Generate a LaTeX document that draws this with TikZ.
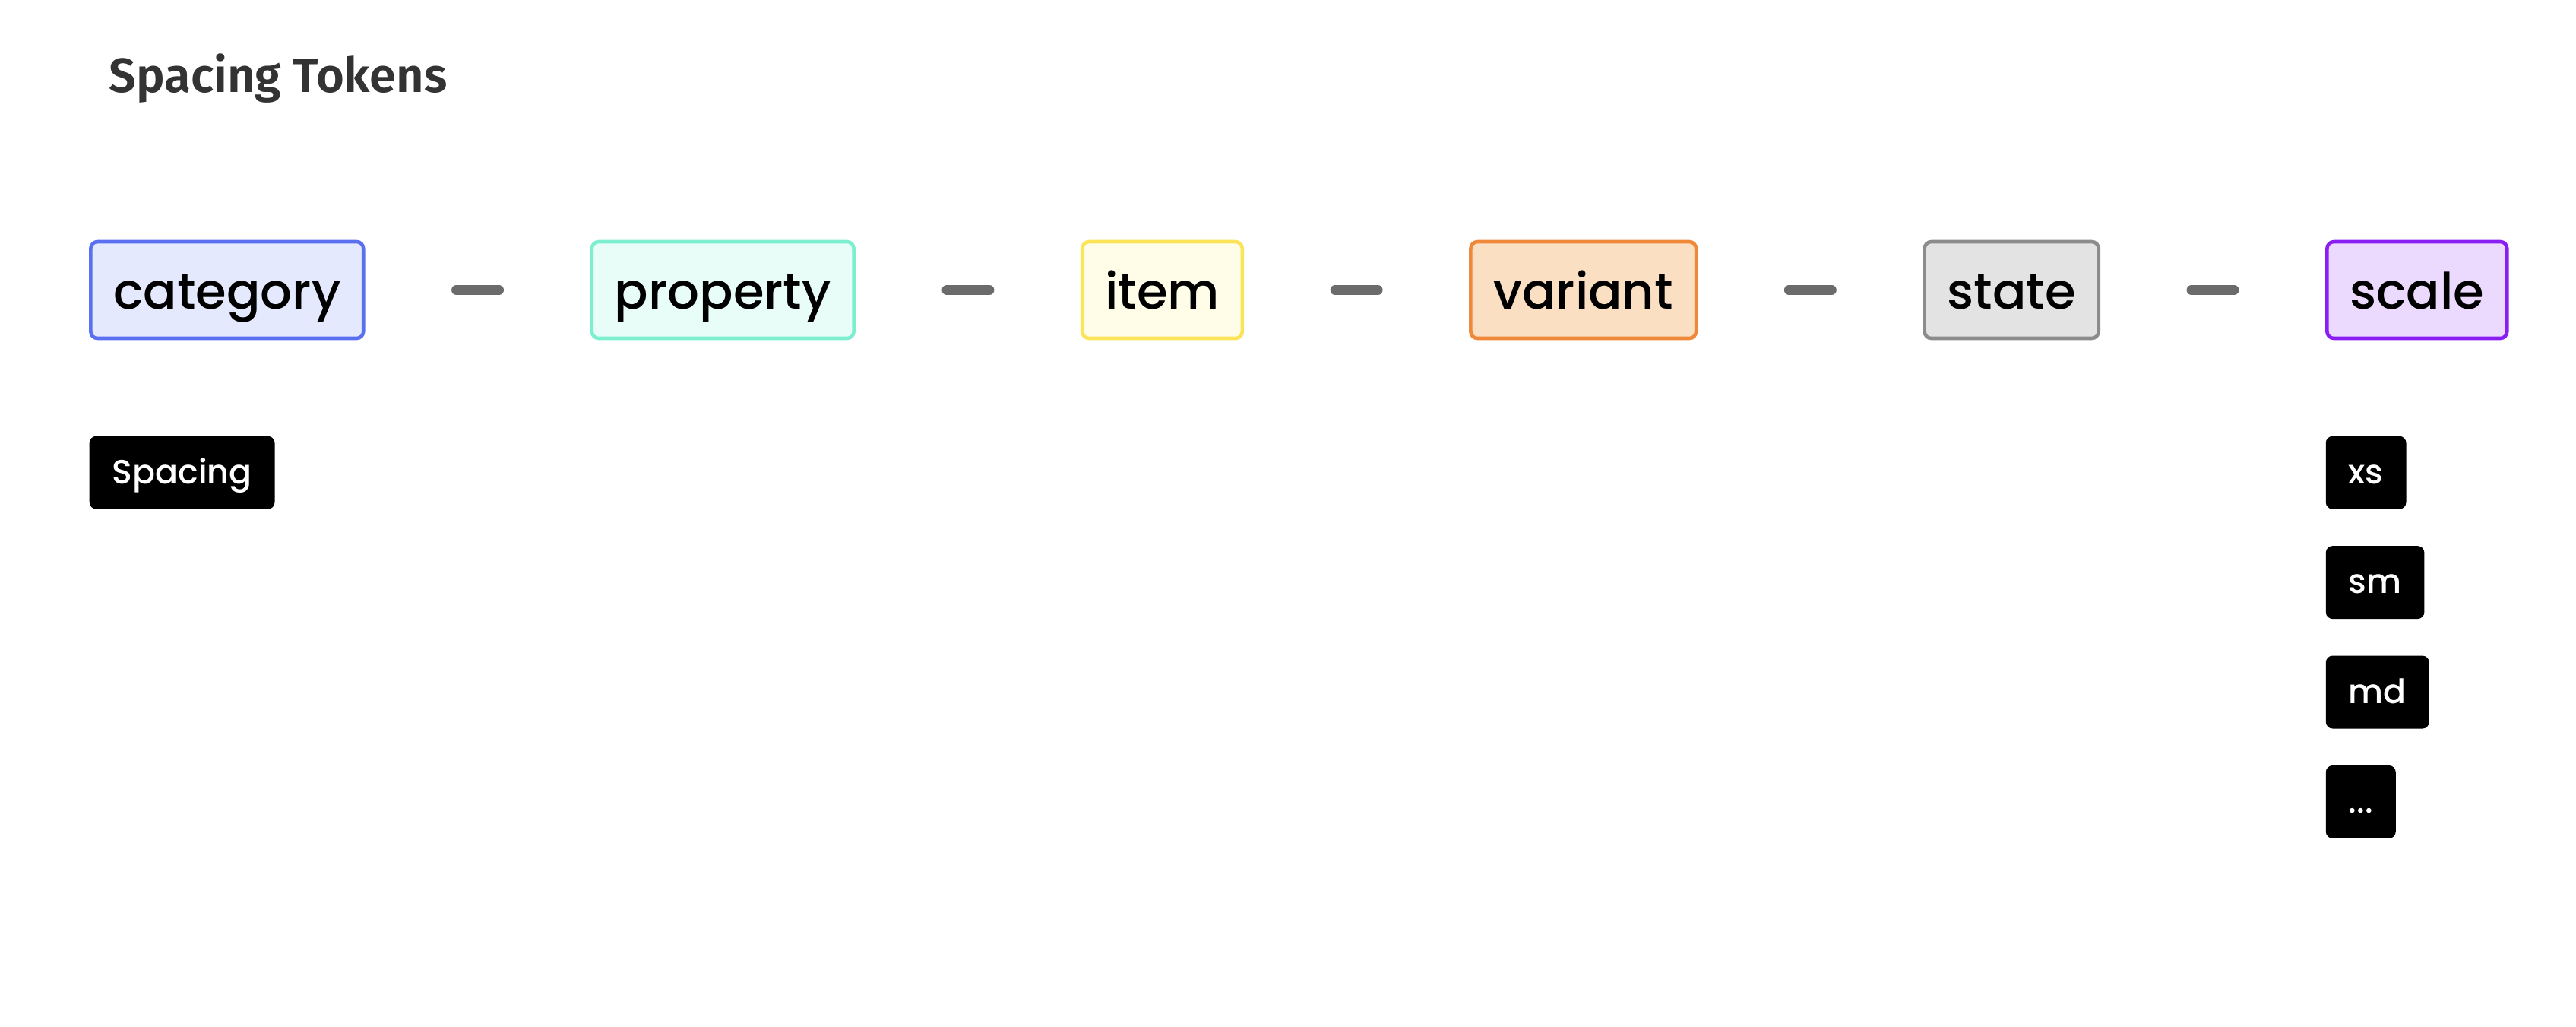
\documentclass[tikz,border=0pt]{standalone}
\usepackage{fontspec}
\setmainfont{Poppins Medium}
\newfontfamily\titlefont{Fira Sans SemiBold}
\usepackage{tikz}
\usetikzlibrary{positioning}

\definecolor{catline}{HTML}{5A70F0}
\definecolor{catfill}{HTML}{E5E9FD}
\definecolor{propline}{HTML}{7DEFD0}
\definecolor{propfill}{HTML}{E8FDF8}
\definecolor{itemline}{HTML}{FCE45A}
\definecolor{itemfill}{HTML}{FFFDE8}
\definecolor{varline}{HTML}{F0883A}
\definecolor{varfill}{HTML}{FBDFC2}
\definecolor{stateline}{HTML}{8C8C8C}
\definecolor{statefill}{HTML}{E3E3E3}
\definecolor{scaleline}{HTML}{8A1EF2}
\definecolor{scalefill}{HTML}{EBDAFD}
\definecolor{sepgrey}{HTML}{6B6B6B}
\definecolor{titlegrey}{HTML}{333333}

\begin{document}
\begin{tikzpicture}[node distance=2.96cm,
    tok/.style 2 args={draw=#1, fill=#2, line width=1.3pt, rounded corners=0.09cm,
        inner xsep=0.3cm, minimum height=1.27cm, font=\fontsize{18.7}{23}\selectfont,
        text height=0.62cm, text depth=0.13cm},
    tag/.style={fill=black, text=white, rounded corners=0.09cm, inner xsep=0.3cm,
        minimum height=0.96cm, font=\fontsize{12.6}{15}\selectfont,
        text height=0.38cm, text depth=0.09cm},
    sep/.style={draw=sepgrey, line width=0.13cm, line cap=round,
        shorten >=1.2cm, shorten <=1.2cm}]
        \useasboundingbox (0,0) rectangle (33.90,-13.50);
        % title
        \node[anchor=base west, inner sep=0pt, text=titlegrey, font=\titlefont\fontsize{18}{21}\selectfont] (title) at (1.43,-1.21) {Spacing Tokens};
        % token parts
        \node[tok={catline}{catfill}, anchor=west] (category) at (1.17,-3.815) {category};
        \node[tok={propline}{propfill}, right=of category] (property) {property};
        \node[tok={itemline}{itemfill}, right=of property] (item) {item};
        \node[tok={varline}{varfill}, right=of item] (variant) {variant};
        \node[tok={stateline}{statefill}, right=of variant] (state) {state};
        \node[tok={scaleline}{scalefill}, right=of state] (scale) {scale};
        \draw[sep] (category) -- (property);
        \draw[sep] (property) -- (item);
        \draw[sep] (item) -- (variant);
        \draw[sep] (variant) -- (state);
        \draw[sep] (state) -- (scale);
        % values
        \node[tag, anchor=north west] (spacing) at (1.17,-5.73) {Spacing};
        \node[tag, anchor=north west] (xs) at (scale.west |- spacing.north) {xs};
        \node[tag, below=0.47cm of xs.south west, anchor=north west] (sm) {sm};
        \node[tag, below=0.47cm of sm.south west, anchor=north west] (md) {md};
        \node[tag, below=0.47cm of md.south west, anchor=north west] (more) {...};
\end{tikzpicture}
\end{document}
